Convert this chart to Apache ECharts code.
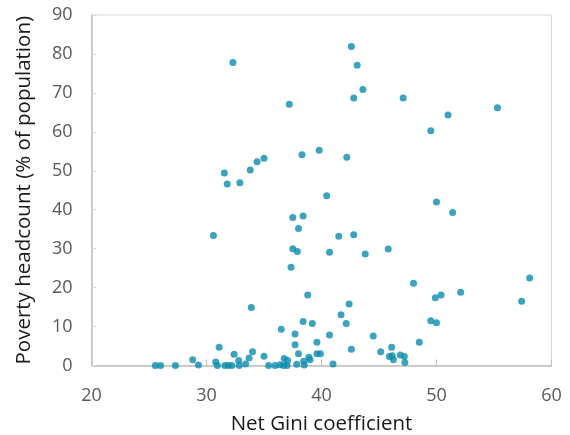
<!DOCTYPE html>
<html>
<head>
<meta charset="utf-8">
<script src="https://cdn.jsdelivr.net/npm/echarts@6/dist/echarts.min.js"></script>
<style>html,body{margin:0;padding:0;background:#fff;}#c{width:570px;height:435px;}</style>
</head>
<body>
<div id="c"></div>
<script>
// Net Gini coefficient (x) and poverty headcount % (y)
var giniValues = [
  32.3, 37.2, 38.3, 39.8, 31.55, 31.8, 32.9, 33.8, 34.4, 35.0,
  42.6, 43.1, 43.6, 42.8, 47.1, 55.3, 51.0, 49.5, 42.2, 37.5,
  38.4, 38.0, 30.6, 37.5, 37.9, 37.35, 38.8, 33.9, 38.4, 39.2,
  36.5, 37.7, 31.1, 37.7, 39.6, 32.4, 34.0, 35.0, 38.0, 39.6,
  39.9, 28.8, 29.3, 30.8, 30.95, 32.8, 33.7, 33.4, 32.85, 31.6,
  31.9, 32.2, 25.55, 26.0, 27.3, 35.4, 35.96, 36.4, 36.7, 37.0,
  36.75, 37.05, 37.85, 38.45, 38.5, 38.9, 39.0, 40.45, 50.0, 51.4,
  41.5, 42.8, 40.7, 43.8, 45.8, 58.1, 48.0, 52.1, 50.4, 49.9,
  57.4, 42.4, 41.7, 42.15, 49.5, 50.0, 40.7, 44.5, 48.5, 42.6,
  46.1, 45.15, 41.0, 45.9, 46.15, 46.25, 46.85, 47.2, 47.25
];
var povertyValues = [
  77.8, 67.1, 54.1, 55.3, 49.4, 46.6, 46.9, 50.2, 52.3, 53.2,
  81.9, 77.1, 70.9, 68.7, 68.7, 66.2, 64.3, 60.3, 53.5, 38.0,
  38.4, 35.2, 33.4, 30.0, 29.3, 25.2, 18.1, 14.9, 11.3, 10.8,
  9.3, 8.1, 4.7, 5.3, 6.0, 2.9, 3.5, 2.4, 3.0, 3.0,
  3.0, 1.5, 0.1, 0.9, 0.0, 1.3, 1.9, 0.4, 0.0, 0.0,
  0.0, 0.0, 0.0, 0.0, 0.0, 0.0, 0.0, 0.2, 0.0, 0.0,
  1.8, 1.3, 0.3, 1.1, 0.1, 2.1, 1.5, 43.6, 42.0, 39.3,
  33.2, 33.6, 29.1, 28.6, 29.9, 22.5, 21.1, 18.8, 18.1, 17.4,
  16.5, 15.8, 13.0, 10.8, 11.5, 11.0, 7.8, 7.6, 6.0, 4.2,
  4.7, 3.5, 0.4, 2.3, 2.5, 1.5, 2.7, 2.3, 0.8
];
var xTicks = [20, 30, 40, 50, 60];
var yTicks = [0, 10, 20, 30, 40, 50, 60, 70, 80, 90];

var points = giniValues.map(function (g, i) { return [g, povertyValues[i]]; });
var FONT = '"Open Sans", "Noto Sans", sans-serif';

var chart = echarts.init(document.getElementById('c'), null, {renderer: 'canvas'});
chart.setOption({
  animation: false,
  backgroundColor: '#ffffff',
  grid: {
    left: 91.5, right: 18.5, top: 15, bottom: 69.5,
    show: true, borderColor: '#d9d9d9', borderWidth: 1,
    containLabel: false, outerBoundsMode: 'none'
  },
  xAxis: {
    type: 'value',
    min: xTicks[0], max: xTicks[xTicks.length - 1], interval: 10,
    name: 'Net Gini coefficient',
    nameLocation: 'middle', nameGap: 48,
    nameTextStyle: {fontFamily: FONT, fontSize: 20.5, color: '#1a1a1a'},
    axisLine: {show: true, lineStyle: {color: '#bfbfbf', width: 1.5}},
    axisTick: {show: true, inside: true, length: 6, lineStyle: {color: '#bfbfbf'}},
    axisLabel: {fontFamily: FONT, fontSize: 18, color: '#595959', margin: 21},
    splitLine: {show: false}
  },
  yAxis: {
    type: 'value',
    min: yTicks[0], max: yTicks[yTicks.length - 1], interval: 10,
    name: 'Poverty headcount (% of population)',
    nameLocation: 'middle', nameGap: 57,
    nameTextStyle: {fontFamily: FONT, fontSize: 20.5, color: '#1a1a1a'},
    axisLine: {show: true, lineStyle: {color: '#bfbfbf', width: 1.5}},
    axisTick: {show: true, inside: true, length: 5, lineStyle: {color: '#d9d9d9'}},
    axisLabel: {fontFamily: FONT, fontSize: 18, color: '#595959', margin: 19},
    splitLine: {show: false}
  },
  series: [{
    type: 'scatter',
    data: points,
    symbol: 'circle',
    symbolSize: 7,
    itemStyle: {color: '#0b8cae'}
  }]
});
</script>
</body>
</html>
